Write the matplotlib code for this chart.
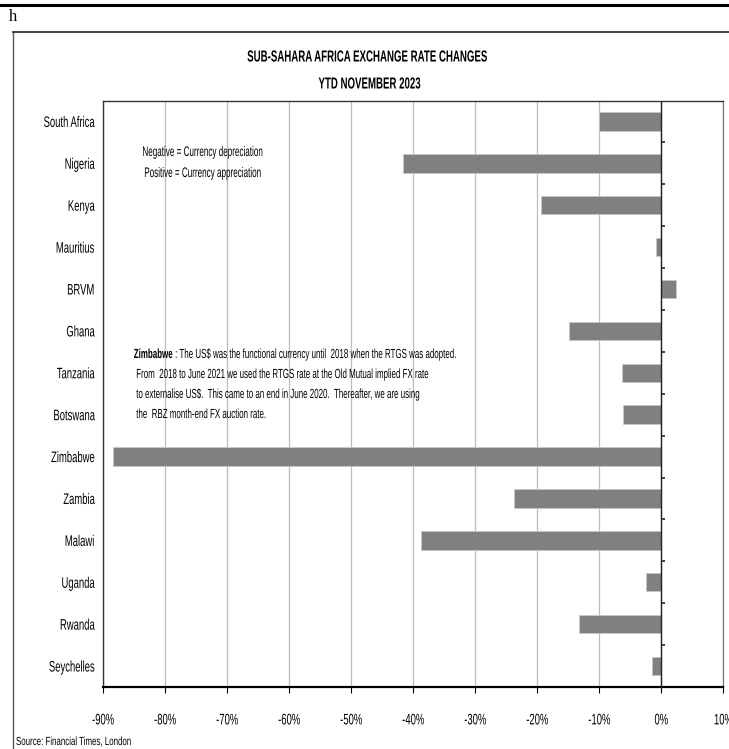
import matplotlib
matplotlib.use("Agg")
import matplotlib.pyplot as plt
from matplotlib.lines import Line2D
from matplotlib.patheffects import AbstractPathEffect
from matplotlib.transforms import Affine2D
import numpy as np

countries = ["South Africa", "Nigeria", "Kenya", "Mauritius", "BRVM", "Ghana",
             "Tanzania", "Botswana", "Zimbabwe", "Zambia", "Malawi", "Uganda",
             "Rwanda", "Seychelles"]
changes = [-10.1, -41.6, -19.4, -0.9, 2.3, -14.9, -6.4, -6.2, -88.4, -23.8,
           -38.8, -2.5, -13.3, -1.5]
x_ticks = [-90, -80, -70, -60, -50, -40, -30, -20, -10, 0, 10]
x_tick_labels = [f"{v}%" for v in x_ticks]

title_lines = ["SUB-SAHARA AFRICA EXCHANGE RATE CHANGES", "YTD NOVEMBER 2023"]
legend_lines = ["Negative = Currency depreciation", "Positive = Currency appreciation"]
zim_head = "Zimbabwe"
zim_lines = [" : The US$ was the functional currency until  2018 when the RTGS was adopted.",
             " From  2018 to June 2021 we used the RTGS rate at the Old Mutual implied FX rate",
             " to externalise US$.  This came to an end in June 2020.  Thereafter, we are using",
             " the  RBZ month-end FX auction rate."]
source = "Source: Financial Times, London"

plt.rcParams["font.family"] = ["Liberation Sans", "DejaVu Sans"]


class Squeeze(AbstractPathEffect):
    """Horizontally condense text glyphs (Arial Narrow look)."""

    def __init__(self, sx, anchor="left"):
        super().__init__()
        self.sx = sx
        self.anchor = anchor

    def draw_path(self, renderer, gc, tpath, affine, rgbFace=None):
        ext = tpath.get_extents()
        if self.anchor == "left":
            cx = 0.0
        elif self.anchor == "right":
            cx = ext.x1
        else:
            cx = 0.5 * (ext.x0 + ext.x1)
        t = Affine2D().translate(-cx, 0).scale(self.sx, 1).translate(cx, 0) + affine
        renderer.draw_path(gc, tpath, t, rgbFace)


W, H = 729, 749
fig = plt.figure(figsize=(W / 100, H / 100), dpi=100)
ax = fig.add_axes([103 / W, 1 - 687 / H, (723.3 - 103) / W, (687 - 100.5) / H])

y = np.arange(len(countries))
ax.grid(axis="x", color="#bcbcbc", lw=0.9, zorder=0)
ax.set_axisbelow(True)
ax.barh(y, changes, height=0.44, color="#808080", edgecolor="#c8c8c8",
        linewidth=0.6, zorder=2)
ax.axvline(0, color="#222222", lw=1.0, zorder=3)

ax.set_xlim(-90, 10)
ax.set_ylim(len(countries) - 0.5, -0.5)
ax.set_xticks(x_ticks)
ax.set_xticklabels(x_tick_labels, fontsize=11)
ax.tick_params(axis="x", direction="out", length=4, width=0.8, pad=15, colors="black")
ax.set_yticks(y)
ax.set_yticklabels(countries, fontsize=11)
ax.tick_params(axis="y", length=0, pad=6)
LAB_SX = 0.62
for lab in ax.get_xticklabels():
    lab.set_path_effects([Squeeze(LAB_SX, "center")])
for lab in ax.get_yticklabels():
    lab.set_path_effects([Squeeze(LAB_SX, "right")])

for s in ["left", "top"]:
    ax.spines[s].set_color("#333333")
    ax.spines[s].set_linewidth(1.0)
ax.spines["right"].set_color("#777777")
ax.spines["right"].set_linewidth(0.9)
ax.spines["bottom"].set_color("black")
ax.spines["bottom"].set_linewidth(1.6)

# small ticks on the zero axis between categories, pointing right
sec = ax.secondary_yaxis(0.9)
sec.set_yticks(np.arange(len(countries) - 1) + 0.5)
sec.set_yticklabels([])
sec.tick_params(axis="y", direction="out", length=3, width=1.2, colors="#222222")
sec.spines["left"].set_visible(False)
sec.spines["right"].set_visible(False)

fig.canvas.draw()
renderer = fig.canvas.get_renderer()


def width_px(t):
    return t.get_window_extent(renderer).width


# titles
t1 = fig.text(368 / W, 1 - 57 / H, title_lines[0], ha="center", va="center",
              fontsize=11.5, fontweight="bold")
t2 = fig.text(370 / W, 1 - 84 / H, title_lines[1], ha="center", va="center",
              fontsize=11.5, fontweight="bold")
sx_t = 241 / width_px(t1)
for t in (t1, t2):
    t.set_path_effects([Squeeze(sx_t, "center")])

# legend note
l1 = fig.text(203 / W, 1 - 152 / H, legend_lines[0], ha="center", va="center", fontsize=10)
l2 = fig.text(203 / W, 1 - 173 / H, legend_lines[1], ha="center", va="center", fontsize=10)
sx_l = 121 / width_px(l1)
for t in (l1, l2):
    t.set_path_effects([Squeeze(sx_l, "center")])

# Zimbabwe note
zx = 134 / W
zh = fig.text(zx, 1 - 355 / H, zim_head, ha="left", va="center", fontsize=9.5,
              fontweight="bold")
z0 = fig.text(zx, 1 - 355 / H, zim_lines[0], ha="left", va="center", fontsize=9.5)
hw = width_px(zh)
sx_z = 323 / (hw + width_px(z0))
head_end = zx + hw * sx_z / W
zh.set_position((head_end, 1 - 355 / H))
zh.set_horizontalalignment("right")
zh.set_path_effects([Squeeze(sx_z, "right")])
z0.set_position((head_end, 1 - 355 / H))
zts = [z0]
for i, line in enumerate(zim_lines[1:]):
    zts.append(fig.text(zx, 1 - (375 + i * 20) / H, line, ha="left", va="center",
                        fontsize=9.5))
for t in zts:
    t.set_path_effects([Squeeze(sx_z, "left")])

# source
src = fig.text(16 / W, 1 - 742 / H, source, ha="left", va="center", fontsize=8.5)
src.set_path_effects([Squeeze(115 / width_px(src), "left")])

# frame and top rule
fig.add_artist(Line2D([13 / W, 13 / W], [0, 1 - 32 / H], color="#555555", lw=1.0))
fig.add_artist(Line2D([13 / W, 1.0], [1 - 32 / H, 1 - 32 / H], color="#222222", lw=1.2))
fig.add_artist(Line2D([0, 1], [1 - 5 / H, 1 - 5 / H], color="black", lw=2.2))
fig.text(9 / W, 1 - 17 / H, "h", ha="left", va="center", fontsize=12,
         family=["Liberation Serif", "DejaVu Serif"])

fig.savefig("out.png", dpi=100)
